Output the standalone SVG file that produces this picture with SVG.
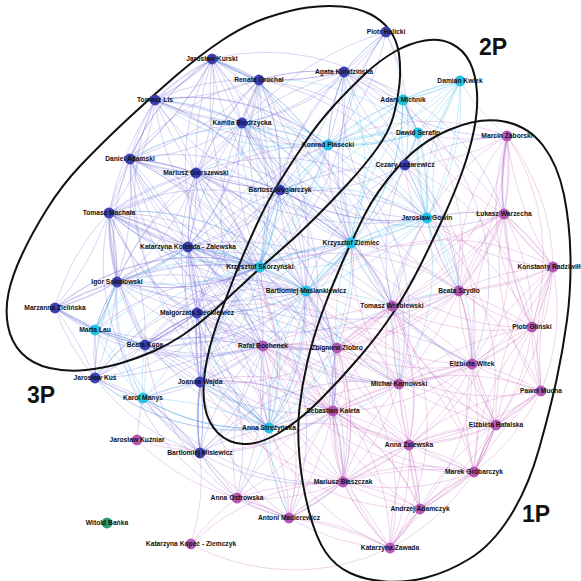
<svg xmlns="http://www.w3.org/2000/svg" width="581" height="581" viewBox="0 0 581 581">
<style>
.e{fill:none;stroke-width:.62;stroke-opacity:.45}
.b{stroke:#6f62d2}
.c{stroke:#3cb6e8}
.p{stroke:#c562bd}
.ring{fill:none;stroke:#111;stroke-width:2}
.bl{fill:#3b3fb0}
.cy{fill:#22c3e3}
.pu{fill:#b457b3}
.gr{fill:#2b9b78}
.l{font-family:"Liberation Sans",Arial,sans-serif;font-weight:700;font-size:6.7px;text-anchor:middle;fill:#111}
.big{font-family:"Liberation Sans",Arial,sans-serif;font-weight:700;font-size:23px;text-anchor:middle;fill:#111}
</style>
<rect width="581" height="581" fill="#fff"/>
<g id="connectors">
<path class="e b" d="M155 100A220 220 0 0 1 212 59A220 220 0 0 1 259 80A220 220 0 0 1 344 72A220 220 0 0 1 386 32A220 220 0 0 1 242 123A220 220 0 0 1 130 159A220 220 0 0 1 196 173A220 220 0 0 1 280 190A220 220 0 0 1 188 247A220 220 0 0 1 109 213A220 220 0 0 1 117 282A220 220 0 0 1 55 308A220 220 0 0 1 95 330A220 220 0 0 1 145 345A220 220 0 0 1 197 313A220 220 0 0 1 200 382A220 220 0 0 1 200 453A220 220 0 0 1 143 398A220 220 0 0 1 95 378A220 220 0 0 1 117 282A220 220 0 0 1 130 159A220 220 0 0 1 155 100A220 220 0 0 1 242 123A220 220 0 0 1 196 173A220 220 0 0 1 109 213A220 220 0 0 1 188 247A220 220 0 0 1 197 313A220 220 0 0 1 145 345A220 220 0 0 1 95 378A220 220 0 0 1 55 308A220 220 0 0 1 109 213A220 220 0 0 1 130 159A220 220 0 0 1 212 59A220 220 0 0 1 242 123A220 220 0 0 1 259 80A220 220 0 0 1 196 173A220 220 0 0 1 188 247A220 220 0 0 1 117 282A220 220 0 0 1 145 345A220 220 0 0 1 200 382A220 220 0 0 1 197 313A220 220 0 0 1 280 190A220 220 0 0 1 242 123A220 220 0 0 1 155 100"/>
<path class="e b" d="M155 100A320 320 0 0 0 212 59A320 320 0 0 0 259 80A320 320 0 0 0 344 72A320 320 0 0 0 386 32A320 320 0 0 0 242 123A320 320 0 0 0 130 159A320 320 0 0 0 196 173A320 320 0 0 0 280 190A320 320 0 0 0 188 247A320 320 0 0 0 109 213A320 320 0 0 0 117 282A320 320 0 0 0 55 308A320 320 0 0 0 95 330A320 320 0 0 0 145 345A320 320 0 0 0 197 313A320 320 0 0 0 200 382A320 320 0 0 0 200 453A320 320 0 0 0 143 398A320 320 0 0 0 95 378A320 320 0 0 0 117 282A320 320 0 0 0 130 159A320 320 0 0 0 155 100A320 320 0 0 0 242 123A320 320 0 0 0 196 173A320 320 0 0 0 109 213A320 320 0 0 0 188 247A320 320 0 0 0 197 313A320 320 0 0 0 145 345A320 320 0 0 0 95 378A320 320 0 0 0 55 308A320 320 0 0 0 109 213A320 320 0 0 0 130 159A320 320 0 0 0 212 59A320 320 0 0 0 242 123A320 320 0 0 0 259 80A320 320 0 0 0 196 173A320 320 0 0 0 188 247A320 320 0 0 0 117 282A320 320 0 0 0 145 345A320 320 0 0 0 200 382A320 320 0 0 0 197 313A320 320 0 0 0 280 190A320 320 0 0 0 242 123A320 320 0 0 0 155 100"/>
<path class="e b" d="M155 100A220 220 0 0 1 196 173A220 220 0 0 1 117 282A220 220 0 0 1 197 313A220 220 0 0 1 188 247A220 220 0 0 1 130 159A220 220 0 0 1 259 80A220 220 0 0 1 212 59A220 220 0 0 1 196 173A220 220 0 0 1 280 190A220 220 0 0 1 344 72A220 220 0 0 1 242 123A220 220 0 0 1 188 247A220 220 0 0 1 200 382A220 220 0 0 1 200 453A220 220 0 0 1 95 378A220 220 0 0 1 95 330A220 220 0 0 1 117 282A220 220 0 0 1 109 213A220 220 0 0 1 196 173A220 220 0 0 1 130 159A220 220 0 0 1 212 59A220 220 0 0 1 155 100A220 220 0 0 1 259 80A220 220 0 0 1 280 190A220 220 0 0 1 197 313A220 220 0 0 1 145 345A220 220 0 0 1 95 330A220 220 0 0 1 55 308A220 220 0 0 1 117 282A220 220 0 0 1 188 247A220 220 0 0 1 259 80A220 220 0 0 1 344 72A220 220 0 0 1 405 165A220 220 0 0 1 280 190A220 220 0 0 1 155 100A220 220 0 0 1 109 213A220 220 0 0 1 145 345A220 220 0 0 1 197 313A220 220 0 0 1 200 382A220 220 0 0 1 143 398A220 220 0 0 1 200 453"/>
<path class="e b" d="M155 100A320 320 0 0 0 196 173A320 320 0 0 0 117 282A320 320 0 0 0 197 313A320 320 0 0 0 188 247A320 320 0 0 0 130 159A320 320 0 0 0 259 80A320 320 0 0 0 212 59A320 320 0 0 0 196 173A320 320 0 0 0 280 190A320 320 0 0 0 344 72A320 320 0 0 0 242 123A320 320 0 0 0 188 247A320 320 0 0 0 200 382A320 320 0 0 0 200 453A320 320 0 0 0 95 378A320 320 0 0 0 95 330A320 320 0 0 0 117 282A320 320 0 0 0 109 213A320 320 0 0 0 196 173A320 320 0 0 0 130 159A320 320 0 0 0 212 59A320 320 0 0 0 155 100A320 320 0 0 0 259 80A320 320 0 0 0 280 190A320 320 0 0 0 197 313A320 320 0 0 0 145 345A320 320 0 0 0 95 330A320 320 0 0 0 55 308A320 320 0 0 0 117 282A320 320 0 0 0 188 247A320 320 0 0 0 259 80A320 320 0 0 0 344 72A320 320 0 0 0 405 165A320 320 0 0 0 280 190A320 320 0 0 0 155 100A320 320 0 0 0 109 213A320 320 0 0 0 145 345A320 320 0 0 0 197 313A320 320 0 0 0 200 382A320 320 0 0 0 143 398A320 320 0 0 0 200 453"/>
<path class="e b" d="M155 100A220 220 0 0 1 328 145A220 220 0 0 1 188 247A220 220 0 0 1 260 267A220 220 0 0 1 196 173A220 220 0 0 1 306 291A220 220 0 0 1 130 159A220 220 0 0 1 269 428A220 220 0 0 1 109 213A220 220 0 0 1 351 243A220 220 0 0 1 212 59A220 220 0 0 1 260 267A220 220 0 0 1 117 282A220 220 0 0 1 306 291A220 220 0 0 1 259 80A220 220 0 0 1 427 218A220 220 0 0 1 242 123A220 220 0 0 1 351 243A220 220 0 0 1 145 345A220 220 0 0 1 260 267A220 220 0 0 1 95 378A220 220 0 0 1 306 291A220 220 0 0 1 197 313A220 220 0 0 1 328 145A220 220 0 0 1 344 72A220 220 0 0 1 260 267A220 220 0 0 1 130 159A220 220 0 0 1 263 346A220 220 0 0 1 109 213A220 220 0 0 1 306 291A220 220 0 0 1 188 247A220 220 0 0 1 269 428A220 220 0 0 1 200 382A220 220 0 0 1 351 243A220 220 0 0 1 196 173A220 220 0 0 1 427 218A220 220 0 0 1 280 190A220 220 0 0 1 306 291A220 220 0 0 1 405 165A220 220 0 0 1 351 243A220 220 0 0 1 386 32A220 220 0 0 1 328 145A220 220 0 0 1 259 80A220 220 0 0 1 260 267A220 220 0 0 1 155 100A220 220 0 0 1 269 428"/>
<path class="e b" d="M155 100A320 320 0 0 0 328 145A320 320 0 0 0 188 247A320 320 0 0 0 260 267A320 320 0 0 0 196 173A320 320 0 0 0 306 291A320 320 0 0 0 130 159A320 320 0 0 0 269 428A320 320 0 0 0 109 213A320 320 0 0 0 351 243A320 320 0 0 0 212 59A320 320 0 0 0 260 267A320 320 0 0 0 117 282A320 320 0 0 0 306 291A320 320 0 0 0 259 80A320 320 0 0 0 427 218A320 320 0 0 0 242 123A320 320 0 0 0 351 243A320 320 0 0 0 145 345A320 320 0 0 0 260 267A320 320 0 0 0 95 378A320 320 0 0 0 306 291A320 320 0 0 0 197 313A320 320 0 0 0 328 145A320 320 0 0 0 344 72A320 320 0 0 0 260 267A320 320 0 0 0 130 159A320 320 0 0 0 263 346A320 320 0 0 0 109 213A320 320 0 0 0 306 291A320 320 0 0 0 188 247A320 320 0 0 0 269 428A320 320 0 0 0 200 382A320 320 0 0 0 351 243A320 320 0 0 0 196 173A320 320 0 0 0 427 218A320 320 0 0 0 280 190"/>
<path class="e b" d="M269 428A220 220 0 0 1 197 313A220 220 0 0 1 263 346A220 220 0 0 1 242 123A220 220 0 0 1 306 291A220 220 0 0 1 200 453A220 220 0 0 1 260 267A220 220 0 0 1 117 282A220 220 0 0 1 328 145A220 220 0 0 1 212 59A220 220 0 0 1 403 100A220 220 0 0 1 344 72A220 220 0 0 1 418 133A220 220 0 0 1 405 165A220 220 0 0 1 427 218A220 220 0 0 1 280 190A220 220 0 0 1 351 243A220 220 0 0 1 188 247A220 220 0 0 1 263 346A220 220 0 0 1 145 345A220 220 0 0 1 269 428A220 220 0 0 1 95 378A220 220 0 0 1 263 346A220 220 0 0 1 55 308A220 220 0 0 1 260 267A220 220 0 0 1 109 213A220 220 0 0 1 263 346A220 220 0 0 1 130 159A220 220 0 0 1 351 243A220 220 0 0 1 242 123A220 220 0 0 1 269 428A220 220 0 0 1 196 173A220 220 0 0 1 263 346A220 220 0 0 1 200 382A220 220 0 0 1 333 411A220 220 0 0 1 200 453A220 220 0 0 1 263 346A220 220 0 0 1 117 282A220 220 0 0 1 337 348A220 220 0 0 1 197 313A220 220 0 0 1 399 384A220 220 0 0 1 280 190A220 220 0 0 1 392 306A220 220 0 0 1 405 165A220 220 0 0 1 459 291A220 220 0 0 1 188 247A220 220 0 0 1 337 348"/>
<path class="e b" d="M130 159A220 220 0 0 1 333 411A220 220 0 0 1 155 100A220 220 0 0 1 399 384A220 220 0 0 1 212 59A220 220 0 0 1 337 348A220 220 0 0 1 242 123A220 220 0 0 1 392 306A220 220 0 0 1 259 80A220 220 0 0 1 459 291A220 220 0 0 1 344 72A220 220 0 0 1 472 364A220 220 0 0 1 386 32A220 220 0 0 1 405 165A220 220 0 0 1 507 136A220 220 0 0 1 344 72A220 220 0 0 1 504 214A220 220 0 0 1 242 123A220 220 0 0 1 399 384A220 220 0 0 1 196 173A220 220 0 0 1 333 411A220 220 0 0 1 188 247A220 220 0 0 1 343 482A220 220 0 0 1 109 213A220 220 0 0 1 289 518A220 220 0 0 1 117 282A220 220 0 0 1 333 411A220 220 0 0 1 197 313A220 220 0 0 1 237 498A220 220 0 0 1 145 345A220 220 0 0 1 289 518A220 220 0 0 1 200 382A220 220 0 0 1 343 482A220 220 0 0 1 200 453A220 220 0 0 1 399 384A220 220 0 0 1 188 247A220 220 0 0 1 392 306A220 220 0 0 1 197 313A220 220 0 0 1 337 348A220 220 0 0 1 109 213A220 220 0 0 1 333 411A220 220 0 0 1 145 345A220 220 0 0 1 263 346A220 220 0 0 1 200 453A220 220 0 0 1 269 428A220 220 0 0 1 143 398A220 220 0 0 1 263 346A220 220 0 0 1 95 330A220 220 0 0 1 306 291A220 220 0 0 1 55 308A220 220 0 0 1 260 267"/>
<path class="e c" d="M328 145A220 220 0 0 1 403 100A220 220 0 0 1 460 81A220 220 0 0 1 418 133A220 220 0 0 1 427 218A220 220 0 0 1 351 243A220 220 0 0 1 260 267A220 220 0 0 1 306 291A220 220 0 0 1 269 428A220 220 0 0 1 143 398A220 220 0 0 1 95 330A220 220 0 0 1 117 282A220 220 0 0 1 260 267A220 220 0 0 1 328 145A220 220 0 0 1 418 133A220 220 0 0 1 403 100A220 220 0 0 1 351 243A220 220 0 0 1 306 291A220 220 0 0 1 427 218A220 220 0 0 1 460 81A220 220 0 0 1 328 145A220 220 0 0 1 260 267A220 220 0 0 1 200 382A220 220 0 0 1 269 428A220 220 0 0 1 306 291A220 220 0 0 1 351 243A220 220 0 0 1 427 218A220 220 0 0 1 418 133A220 220 0 0 1 328 145A220 220 0 0 1 280 190A220 220 0 0 1 260 267A220 220 0 0 1 188 247A220 220 0 0 1 95 330A220 220 0 0 1 145 345A220 220 0 0 1 143 398A220 220 0 0 1 200 382A220 220 0 0 1 269 428A220 220 0 0 1 263 346A220 220 0 0 1 306 291A220 220 0 0 1 333 411"/>
<path class="e c" d="M328 145A320 320 0 0 0 403 100A320 320 0 0 0 460 81A320 320 0 0 0 418 133A320 320 0 0 0 427 218A320 320 0 0 0 351 243A320 320 0 0 0 260 267A320 320 0 0 0 306 291A320 320 0 0 0 269 428A320 320 0 0 0 143 398A320 320 0 0 0 95 330A320 320 0 0 0 117 282A320 320 0 0 0 260 267A320 320 0 0 0 328 145A320 320 0 0 0 418 133A320 320 0 0 0 403 100A320 320 0 0 0 351 243A320 320 0 0 0 306 291A320 320 0 0 0 427 218A320 320 0 0 0 460 81A320 320 0 0 0 328 145A320 320 0 0 0 260 267A320 320 0 0 0 200 382A320 320 0 0 0 269 428A320 320 0 0 0 306 291A320 320 0 0 0 351 243A320 320 0 0 0 427 218A320 320 0 0 0 418 133A320 320 0 0 0 328 145A320 320 0 0 0 280 190A320 320 0 0 0 260 267A320 320 0 0 0 188 247A320 320 0 0 0 95 330"/>
<path class="e c" d="M333 411A220 220 0 0 1 337 348A220 220 0 0 1 351 243A220 220 0 0 1 392 306A220 220 0 0 1 427 218A220 220 0 0 1 459 291A220 220 0 0 1 460 81A220 220 0 0 1 405 165A220 220 0 0 1 403 100A220 220 0 0 1 328 145A220 220 0 0 1 344 72A220 220 0 0 1 386 32A220 220 0 0 1 403 100A220 220 0 0 1 418 133A220 220 0 0 1 405 165A220 220 0 0 1 427 218A220 220 0 0 1 504 214A220 220 0 0 1 507 136A220 220 0 0 1 460 81A220 220 0 0 1 403 100A220 220 0 0 1 351 243A220 220 0 0 1 405 165A220 220 0 0 1 418 133A220 220 0 0 1 328 145A220 220 0 0 1 242 123A220 220 0 0 1 260 267A220 220 0 0 1 269 428A220 220 0 0 1 333 411A220 220 0 0 1 343 482A220 220 0 0 1 289 518A220 220 0 0 1 269 428A220 220 0 0 1 143 398A220 220 0 0 1 117 282A220 220 0 0 1 95 330A220 220 0 0 1 55 308"/>
<path class="e c" d="M260 267A220 220 0 0 1 196 173A220 220 0 0 1 328 145A220 220 0 0 1 259 80A220 220 0 0 1 212 59A220 220 0 0 1 351 243A220 220 0 0 1 306 291A220 220 0 0 1 392 306A220 220 0 0 1 459 291A220 220 0 0 1 427 218A220 220 0 0 1 472 364A220 220 0 0 1 351 243A220 220 0 0 1 399 384A220 220 0 0 1 306 291A220 220 0 0 1 337 348A220 220 0 0 1 269 428A220 220 0 0 1 237 498A220 220 0 0 1 200 453A220 220 0 0 1 260 267A220 220 0 0 1 130 159A220 220 0 0 1 328 145A220 220 0 0 1 155 100A220 220 0 0 1 351 243A220 220 0 0 1 460 81A220 220 0 0 1 427 218A220 220 0 0 1 260 267A220 220 0 0 1 109 213A220 220 0 0 1 306 291A220 220 0 0 1 242 123A220 220 0 0 1 427 218A220 220 0 0 1 344 72A220 220 0 0 1 351 243A220 220 0 0 1 269 428A220 220 0 0 1 197 313A220 220 0 0 1 143 398A220 220 0 0 1 145 345A220 220 0 0 1 95 330A220 220 0 0 1 188 247A220 220 0 0 1 260 267A220 220 0 0 1 351 243A220 220 0 0 1 259 80A220 220 0 0 1 418 133A220 220 0 0 1 403 100A220 220 0 0 1 280 190A220 220 0 0 1 427 218A220 220 0 0 1 399 384A220 220 0 0 1 269 428A220 220 0 0 1 95 378A220 220 0 0 1 260 267A220 220 0 0 1 306 291A220 220 0 0 1 197 313"/>
<path class="e p" d="M507 136A220 220 0 0 1 504 214A220 220 0 0 1 553 267A220 220 0 0 1 532 327A220 220 0 0 1 459 291A220 220 0 0 1 392 306A220 220 0 0 1 337 348A220 220 0 0 1 263 346A220 220 0 0 1 333 411A220 220 0 0 1 399 384A220 220 0 0 1 472 364A220 220 0 0 1 541 391A220 220 0 0 1 496 425A220 220 0 0 1 474 472A220 220 0 0 1 420 509A220 220 0 0 1 390 548A220 220 0 0 1 343 482A220 220 0 0 1 289 518A220 220 0 0 1 237 498A220 220 0 0 1 263 346A220 220 0 0 1 337 348A220 220 0 0 1 399 384A220 220 0 0 1 409 445A220 220 0 0 1 474 472A220 220 0 0 1 496 425A220 220 0 0 1 472 364A220 220 0 0 1 459 291A220 220 0 0 1 504 214A220 220 0 0 1 507 136A220 220 0 0 1 553 267A220 220 0 0 1 541 391A220 220 0 0 1 532 327A220 220 0 0 1 472 364A220 220 0 0 1 399 384A220 220 0 0 1 333 411A220 220 0 0 1 343 482A220 220 0 0 1 420 509A220 220 0 0 1 409 445A220 220 0 0 1 496 425A220 220 0 0 1 541 391A220 220 0 0 1 474 472A220 220 0 0 1 390 548A220 220 0 0 1 289 518A220 220 0 0 1 333 411A220 220 0 0 1 337 348A220 220 0 0 1 392 306A220 220 0 0 1 504 214A220 220 0 0 1 532 327A220 220 0 0 1 496 425"/>
<path class="e p" d="M507 136A320 320 0 0 0 504 214A320 320 0 0 0 553 267A320 320 0 0 0 532 327A320 320 0 0 0 459 291A320 320 0 0 0 392 306A320 320 0 0 0 337 348A320 320 0 0 0 263 346A320 320 0 0 0 333 411A320 320 0 0 0 399 384A320 320 0 0 0 472 364A320 320 0 0 0 541 391A320 320 0 0 0 496 425A320 320 0 0 0 474 472A320 320 0 0 0 420 509A320 320 0 0 0 390 548A320 320 0 0 0 343 482A320 320 0 0 0 289 518A320 320 0 0 0 237 498A320 320 0 0 0 263 346A320 320 0 0 0 337 348A320 320 0 0 0 399 384A320 320 0 0 0 409 445A320 320 0 0 0 474 472A320 320 0 0 0 496 425A320 320 0 0 0 472 364A320 320 0 0 0 459 291A320 320 0 0 0 504 214A320 320 0 0 0 507 136A320 320 0 0 0 553 267A320 320 0 0 0 541 391A320 320 0 0 0 532 327A320 320 0 0 0 472 364A320 320 0 0 0 399 384A320 320 0 0 0 333 411A320 320 0 0 0 343 482A320 320 0 0 0 420 509A320 320 0 0 0 409 445A320 320 0 0 0 496 425A320 320 0 0 0 541 391A320 320 0 0 0 474 472A320 320 0 0 0 390 548A320 320 0 0 0 289 518A320 320 0 0 0 333 411A320 320 0 0 0 337 348A320 320 0 0 0 392 306A320 320 0 0 0 504 214A320 320 0 0 0 532 327A320 320 0 0 0 496 425"/>
<path class="e p" d="M496 425A220 220 0 0 1 409 445A220 220 0 0 1 343 482A220 220 0 0 1 237 498A220 220 0 0 1 333 411A220 220 0 0 1 263 346A220 220 0 0 1 399 384A220 220 0 0 1 459 291A220 220 0 0 1 553 267A220 220 0 0 1 472 364A220 220 0 0 1 409 445A220 220 0 0 1 420 509A220 220 0 0 1 474 472A220 220 0 0 1 343 482A220 220 0 0 1 337 348A220 220 0 0 1 459 291A220 220 0 0 1 507 136A220 220 0 0 1 532 327A220 220 0 0 1 399 384A220 220 0 0 1 496 425A220 220 0 0 1 553 267A220 220 0 0 1 504 214A220 220 0 0 1 392 306A220 220 0 0 1 399 384A220 220 0 0 1 343 482A220 220 0 0 1 333 411A220 220 0 0 1 409 445A220 220 0 0 1 390 548A220 220 0 0 1 420 509A220 220 0 0 1 496 425A220 220 0 0 1 474 472A220 220 0 0 1 472 364A220 220 0 0 1 392 306A220 220 0 0 1 263 346A220 220 0 0 1 289 518A220 220 0 0 1 343 482A220 220 0 0 1 409 445A220 220 0 0 1 541 391A220 220 0 0 1 553 267A220 220 0 0 1 459 291A220 220 0 0 1 472 364A220 220 0 0 1 337 348A220 220 0 0 1 343 482A220 220 0 0 1 474 472A220 220 0 0 1 532 327A220 220 0 0 1 507 136A220 220 0 0 1 392 306A220 220 0 0 1 409 445A220 220 0 0 1 333 411A220 220 0 0 1 420 509"/>
<path class="e p" d="M496 425A320 320 0 0 0 409 445A320 320 0 0 0 343 482A320 320 0 0 0 237 498A320 320 0 0 0 333 411A320 320 0 0 0 263 346A320 320 0 0 0 399 384A320 320 0 0 0 459 291A320 320 0 0 0 553 267A320 320 0 0 0 472 364A320 320 0 0 0 409 445A320 320 0 0 0 420 509A320 320 0 0 0 474 472A320 320 0 0 0 343 482A320 320 0 0 0 337 348A320 320 0 0 0 459 291A320 320 0 0 0 507 136A320 320 0 0 0 532 327A320 320 0 0 0 399 384A320 320 0 0 0 496 425A320 320 0 0 0 553 267A320 320 0 0 0 504 214A320 320 0 0 0 392 306A320 320 0 0 0 399 384A320 320 0 0 0 343 482A320 320 0 0 0 333 411A320 320 0 0 0 409 445A320 320 0 0 0 390 548A320 320 0 0 0 420 509A320 320 0 0 0 496 425A320 320 0 0 0 474 472A320 320 0 0 0 472 364A320 320 0 0 0 392 306A320 320 0 0 0 263 346A320 320 0 0 0 289 518A320 320 0 0 0 343 482A320 320 0 0 0 409 445A320 320 0 0 0 541 391"/>
<path class="e p" d="M237 498A220 220 0 0 1 200 453A220 220 0 0 1 200 382A220 220 0 0 1 263 346A220 220 0 0 1 197 313A220 220 0 0 1 269 428A220 220 0 0 1 333 411A220 220 0 0 1 260 267A220 220 0 0 1 337 348A220 220 0 0 1 306 291A220 220 0 0 1 399 384A220 220 0 0 1 351 243A220 220 0 0 1 459 291A220 220 0 0 1 427 218A220 220 0 0 1 504 214A220 220 0 0 1 351 243A220 220 0 0 1 392 306A220 220 0 0 1 328 145A220 220 0 0 1 507 136A220 220 0 0 1 405 165A220 220 0 0 1 472 364A220 220 0 0 1 306 291A220 220 0 0 1 343 482A220 220 0 0 1 269 428A220 220 0 0 1 289 518A220 220 0 0 1 200 453A220 220 0 0 1 237 498A220 220 0 0 1 137 440A220 220 0 0 1 200 453A220 220 0 0 1 191 544A220 220 0 0 1 237 498A220 220 0 0 1 289 518A220 220 0 0 1 390 548A220 220 0 0 1 343 482A220 220 0 0 1 263 346A220 220 0 0 1 269 428A220 220 0 0 1 399 384A220 220 0 0 1 427 218A220 220 0 0 1 532 327A220 220 0 0 1 351 243A220 220 0 0 1 409 445A220 220 0 0 1 306 291A220 220 0 0 1 496 425A220 220 0 0 1 392 306A220 220 0 0 1 200 382A220 220 0 0 1 333 411A220 220 0 0 1 420 509A220 220 0 0 1 197 313A220 220 0 0 1 474 472"/>
<path class="e p" d="M474 472A220 220 0 0 1 260 267A220 220 0 0 1 541 391A220 220 0 0 1 306 291A220 220 0 0 1 553 267A220 220 0 0 1 427 218A220 220 0 0 1 507 136A220 220 0 0 1 418 133A220 220 0 0 1 504 214A220 220 0 0 1 403 100A220 220 0 0 1 459 291A220 220 0 0 1 405 165A220 220 0 0 1 532 327A220 220 0 0 1 392 306A220 220 0 0 1 390 548A220 220 0 0 1 191 544A220 220 0 0 1 343 482A220 220 0 0 1 200 382A220 220 0 0 1 409 445A220 220 0 0 1 263 346A220 220 0 0 1 472 364A220 220 0 0 1 333 411A220 220 0 0 1 459 291A220 220 0 0 1 337 348A220 220 0 0 1 496 425A220 220 0 0 1 504 214A220 220 0 0 1 409 445A220 220 0 0 1 427 218A220 220 0 0 1 474 472A220 220 0 0 1 263 346A220 220 0 0 1 390 548A220 220 0 0 1 269 428A220 220 0 0 1 409 445A220 220 0 0 1 399 384A220 220 0 0 1 541 391A220 220 0 0 1 504 214A220 220 0 0 1 459 291A220 220 0 0 1 420 509A220 220 0 0 1 306 291A220 220 0 0 1 474 472A220 220 0 0 1 337 348A220 220 0 0 1 390 548A220 220 0 0 1 333 411A220 220 0 0 1 137 440A220 220 0 0 1 143 398"/>
</g>
<g id="groups">
<path id="group-3P" class="ring" d="M307.5 7.5Q325 5 341.5 6.5Q358 8 370 14Q382 20 389.5 30Q397 40 399 54Q401 68 399.5 84Q398 100 393.5 116Q389 132 377 148.5Q365 165 349 182.5Q333 200 315.5 217.5Q298 235 279 251.5Q260 268 244 283Q228 298 213 311.5Q198 325 183 335Q168 345 153 351.5Q138 358 121.5 363Q105 368 86 370Q67 372 49.5 368Q32 364 21.5 353Q11 342 8 326Q5 310 8.5 293Q12 276 22 254.5Q32 233 47 209Q62 185 81 165Q100 145 125 121.5Q150 98 175 76.5Q200 55 222.5 40Q245 25 267.5 17.5Q290 10 307.5 7.5Z"/>
<path id="group-2P" class="ring" d="M452 44Q464 50 470 62.5Q476 75 477 92.5Q478 110 474 130Q470 150 462.5 171Q455 192 444 216Q433 240 420.5 265Q408 290 394 311.5Q380 333 360 356.5Q340 380 319 401Q298 422 278 433.5Q258 445 243 444Q228 443 218 433Q208 423 205 407.5Q202 392 205 371Q208 350 216.5 325Q225 300 235 275Q245 250 256.5 225Q268 200 280 181Q292 162 305 142.5Q318 123 334 105.5Q350 88 365 74Q380 60 395 51.5Q410 43 425 40.5Q440 38 452 44Z"/>
<path id="group-1P" class="ring" d="M504 121.5Q528 126 543 145.5Q558 165 564 195Q570 225 570.5 257.5Q571 290 567 320Q563 350 556.5 380Q550 410 539 449Q528 488 510 516.5Q492 545 470 558.5Q448 572 426.5 577.5Q405 583 385 581.5Q365 580 350 573Q335 566 325.5 552Q316 538 309 511.5Q302 485 299.5 457.5Q297 430 299.5 407.5Q302 385 307.5 361.5Q313 338 322 313Q331 288 342 263Q353 238 364.5 215Q376 192 398 167Q420 142 450 129.5Q480 117 504 121.5Z"/>
<text class="big" x="41" y="403">3P</text>
<text class="big" x="493" y="55">2P</text>
<text class="big" x="536" y="522">1P</text>
</g>
<g id="nodes">
<g id="n-piotr-halicki"><circle class="bl" cx="386" cy="32" r="5.4"/><text class="l" x="386" y="34.4">Piotr Halicki</text></g>
<g id="n-jaroslaw-kurski"><circle class="bl" cx="212" cy="59" r="5.4"/><text class="l" x="212" y="61.4">Jarosław Kurski</text></g>
<g id="n-renata-grochal"><circle class="bl" cx="259" cy="80" r="5.4"/><text class="l" x="259" y="82.4">Renata Grochal</text></g>
<g id="n-agata-kondzinska"><circle class="bl" cx="344" cy="72" r="5.4"/><text class="l" x="344" y="74.4">Agata Kondzińska</text></g>
<g id="n-tomasz-lis"><circle class="bl" cx="155" cy="100" r="5.4"/><text class="l" x="155" y="102.4">Tomasz Lis</text></g>
<g id="n-kamila-biedrzycka"><circle class="bl" cx="242" cy="123" r="5.4"/><text class="l" x="242" y="125.4">Kamila Biedrzycka</text></g>
<g id="n-daniel-adamski"><circle class="bl" cx="130" cy="159" r="5.4"/><text class="l" x="130" y="161.4">Daniel Adamski</text></g>
<g id="n-cezary-lazarewicz"><circle class="bl" cx="405" cy="165" r="5.4"/><text class="l" x="405" y="167.4">Cezary Łazarewicz</text></g>
<g id="n-mariusz-gierszewski"><circle class="bl" cx="196" cy="173" r="5.4"/><text class="l" x="196" y="175.4">Mariusz Gierszewski</text></g>
<g id="n-bartosz-weglarczyk"><circle class="bl" cx="280" cy="190" r="5.4"/><text class="l" x="280" y="192.4">Bartosz Węglarczyk</text></g>
<g id="n-tomasz-machala"><circle class="bl" cx="109" cy="213" r="5.4"/><text class="l" x="109" y="215.4">Tomasz Machała</text></g>
<g id="n-katarzyna-kolenda"><circle class="bl" cx="188" cy="247" r="5.4"/><text class="l" x="188" y="249.4">Katarzyna Kolenda - Zalewska</text></g>
<g id="n-igor-sokolowski"><circle class="bl" cx="117" cy="282" r="5.4"/><text class="l" x="117" y="284.4">Igor Sokołowski</text></g>
<g id="n-marzanna-zielinska"><circle class="bl" cx="55" cy="308" r="5.4"/><text class="l" x="55" y="310.4">Marzanna Zielińska</text></g>
<g id="n-malgorzata-sieckiewicz"><circle class="bl" cx="197" cy="313" r="5.4"/><text class="l" x="197" y="315.4">Małgorzata Sieckiewicz</text></g>
<g id="n-beata-kepa"><circle class="bl" cx="145" cy="345" r="5.4"/><text class="l" x="145" y="347.4">Beata Kępa</text></g>
<g id="n-jaroslaw-kus"><circle class="bl" cx="95" cy="378" r="5.4"/><text class="l" x="95" y="380.4">Jarosław Kuś</text></g>
<g id="n-joanna-wajda"><circle class="bl" cx="200" cy="382" r="5.4"/><text class="l" x="200" y="384.4">Joanna Wajda</text></g>
<g id="n-bartlomiej-misiewicz"><circle class="bl" cx="200" cy="453" r="5.4"/><text class="l" x="200" y="455.4">Bartłomiej Misiewicz</text></g>
<g id="n-adam-michnik"><circle class="cy" cx="403" cy="100" r="5.4"/><text class="l" x="403" y="102.4">Adam Michnik</text></g>
<g id="n-damian-kwiek"><circle class="cy" cx="460" cy="81" r="5.4"/><text class="l" x="460" y="83.4">Damian Kwiek</text></g>
<g id="n-dawid-serafin"><circle class="cy" cx="418" cy="133" r="5.4"/><text class="l" x="418" y="135.4">Dawid Serafin</text></g>
<g id="n-konrad-piasecki"><circle class="cy" cx="328" cy="145" r="5.4"/><text class="l" x="328" y="147.4">Konrad Piasecki</text></g>
<g id="n-jaroslaw-gowin"><circle class="cy" cx="427" cy="218" r="5.4"/><text class="l" x="427" y="220.4">Jarosław Gowin</text></g>
<g id="n-krzysztof-ziemiec"><circle class="cy" cx="351" cy="243" r="5.4"/><text class="l" x="351" y="245.4">Krzysztof Ziemiec</text></g>
<g id="n-krzysztof-skorzynski"><circle class="cy" cx="260" cy="267" r="5.4"/><text class="l" x="260" y="269.4">Krzysztof Skórzyński</text></g>
<g id="n-bartlomiej-maslankiewicz"><circle class="cy" cx="306" cy="291" r="5.4"/><text class="l" x="306" y="293.4">Bartłomiej Maślankiewicz</text></g>
<g id="n-marta-lau"><circle class="cy" cx="95" cy="330" r="5.4"/><text class="l" x="95" y="332.4">Marta Lau</text></g>
<g id="n-karol-manys"><circle class="cy" cx="143" cy="398" r="5.4"/><text class="l" x="143" y="400.4">Karol Manys</text></g>
<g id="n-anna-strezynska"><circle class="cy" cx="269" cy="428" r="5.4"/><text class="l" x="269" y="430.4">Anna Streżyńska</text></g>
<g id="n-marcin-zaborski"><circle class="pu" cx="507" cy="136" r="5.4"/><text class="l" x="507" y="138.4">Marcin Zaborski</text></g>
<g id="n-lukasz-warzecha"><circle class="pu" cx="504" cy="214" r="5.4"/><text class="l" x="504" y="216.4">Łukasz Warzecha</text></g>
<g id="n-konstanty-radziwill"><circle class="pu" cx="553" cy="267" r="5.4"/><text class="l" x="549" y="269.4">Konstanty Radziwiłł</text></g>
<g id="n-beata-szydlo"><circle class="pu" cx="459" cy="291" r="5.4"/><text class="l" x="459" y="293.4">Beata Szydło</text></g>
<g id="n-tomasz-wroblewski"><circle class="pu" cx="392" cy="306" r="5.4"/><text class="l" x="392" y="308.4">Tomasz Wróblewski</text></g>
<g id="n-piotr-glinski"><circle class="pu" cx="532" cy="327" r="5.4"/><text class="l" x="532" y="329.4">Piotr Gliński</text></g>
<g id="n-rafal-bochenek"><circle class="pu" cx="263" cy="346" r="5.4"/><text class="l" x="263" y="348.4">Rafał Bochenek</text></g>
<g id="n-zbigniew-ziobro"><circle class="pu" cx="337" cy="348" r="5.4"/><text class="l" x="337" y="350.4">Zbigniew Ziobro</text></g>
<g id="n-elzbieta-witek"><circle class="pu" cx="472" cy="364" r="5.4"/><text class="l" x="472" y="366.4">Elżbieta Witek</text></g>
<g id="n-michal-karnowski"><circle class="pu" cx="399" cy="384" r="5.4"/><text class="l" x="399" y="386.4">Michał Karnowski</text></g>
<g id="n-pawel-mucha"><circle class="pu" cx="541" cy="391" r="5.4"/><text class="l" x="541" y="393.4">Paweł Mucha</text></g>
<g id="n-sebastian-kaleta"><circle class="pu" cx="333" cy="411" r="5.4"/><text class="l" x="333" y="413.4">Sebastian Kaleta</text></g>
<g id="n-elzbieta-rafalska"><circle class="pu" cx="496" cy="425" r="5.4"/><text class="l" x="496" y="427.4">Elżbieta Rafalska</text></g>
<g id="n-jaroslaw-kuzniar"><circle class="pu" cx="137" cy="440" r="5.4"/><text class="l" x="137" y="442.4">Jarosław Kuźniar</text></g>
<g id="n-anna-zalewska"><circle class="pu" cx="409" cy="445" r="5.4"/><text class="l" x="409" y="447.4">Anna Zalewska</text></g>
<g id="n-marek-grobarczyk"><circle class="pu" cx="474" cy="472" r="5.4"/><text class="l" x="474" y="474.4">Marek Gróbarczyk</text></g>
<g id="n-mariusz-blaszczak"><circle class="pu" cx="343" cy="482" r="5.4"/><text class="l" x="343" y="484.4">Mariusz Błaszczak</text></g>
<g id="n-anna-ostrowska"><circle class="pu" cx="237" cy="498" r="5.4"/><text class="l" x="237" y="500.4">Anna Ostrowska</text></g>
<g id="n-antoni-macierewicz"><circle class="pu" cx="289" cy="518" r="5.4"/><text class="l" x="289" y="520.4">Antoni Macierewicz</text></g>
<g id="n-andrzej-adamczyk"><circle class="pu" cx="420" cy="509" r="5.4"/><text class="l" x="420" y="511.4">Andrzej Adamczyk</text></g>
<g id="n-witold-banka"><circle class="gr" cx="107" cy="523" r="5.4"/><text class="l" x="107" y="525.4">Witold Bańka</text></g>
<g id="n-katarzyna-kopec"><circle class="pu" cx="191" cy="544" r="5.4"/><text class="l" x="191" y="546.4">Katarzyna Kopeć - Ziemczyk</text></g>
<g id="n-katarzyna-zawada"><circle class="pu" cx="390" cy="548" r="5.4"/><text class="l" x="390" y="550.4">Katarzyna Zawada</text></g>
</g>
</svg>
